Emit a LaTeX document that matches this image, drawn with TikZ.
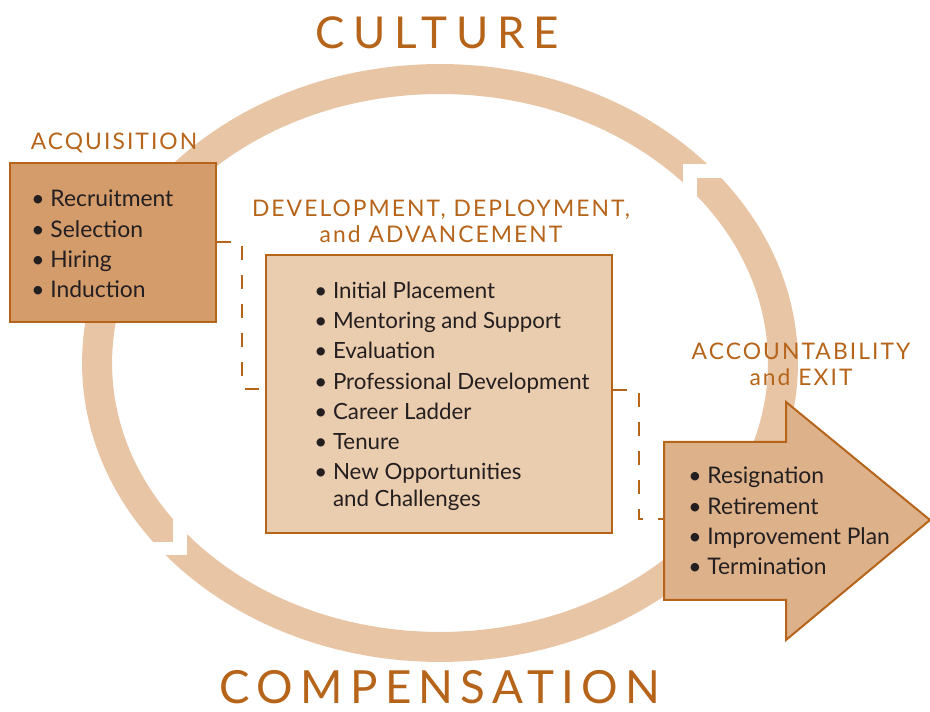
\documentclass[tikz,border=0pt]{standalone}
\usepackage{fontspec}
\setmainfont{Lato}
\newfontfamily\headfont[LetterSpace=9]{Lato}
\newfontfamily\culturefont[LetterSpace=20]{Lato}
\newfontfamily\compfont[LetterSpace=16]{Lato}
\usepackage{xcolor}
\definecolor{rust}{RGB}{182,100,26}
\definecolor{ringtan}{RGB}{232,197,164}
\definecolor{acqtan}{RGB}{212,155,107}
\definecolor{devtan}{RGB}{234,204,174}
\definecolor{exittan}{RGB}{221,177,138}
\definecolor{ink}{RGB}{35,31,32}
\newcommand{\bul}{\textbullet\ }
\newcommand{\bulgap}{\\[2.2pt]}
\tikzset{
  stagebox/.style={draw=rust, line width=0.04cm},
  stagelist/.style={text=ink, align=left, inner sep=0pt, anchor=west, font=\fontsize{13}{15}\selectfont},
  stagehead/.style={text=rust, align=center, font=\headfont\fontsize{13}{15}\selectfont},
  bigword/.style={text=rust, inner sep=0pt},
  link/.style={draw=rust, line width=0.04cm, dash pattern=on 0.28cm off 0.3cm},
  ringgap/.style={draw=white, line width=0.28cm, line join=miter}
}

\begin{document}
\begin{tikzpicture}[x=0.02cm,y=-0.02cm]
\useasboundingbox (0,0) rectangle (930,712);
\draw[ringtan, line width=0.6cm] (440,363) ellipse [x radius=6.86cm, y radius=5.68cm];
\draw[ringgap] (740,171) -- (689.5,171) -- (689.5,205);
\draw[ringgap] (140,548.5) -- (179.5,548.5) -- (179.5,510);
\node[bigword, font=\culturefont\fontsize{25}{30}\selectfont] (culture) at (437,33) {CULTURE};
\node[bigword, font=\compfont\fontsize{26}{30}\selectfont] (compensation) at (440,687) {COMPENSATION};
\node[stagehead] (acqhead) at (114,143) {ACQUISITION};
\node[stagebox, fill=acqtan, minimum width=4.14cm, minimum height=3.18cm] (acq) at (113,242.5) {};
\node[stagelist] (acqlist) at (31,244) {\bul Recruitment\bulgap \bul Selection\bulgap \bul Hiring\bulgap \bul Induction};
\node[stagehead] (devhead) at (441,221) {DEVELOPMENT, DEPLOYMENT,\\and ADVANCEMENT};
\node[stagebox, fill=devtan, minimum width=6.92cm, minimum height=5.56cm] (dev) at (439,394) {};
\node[stagelist, font=\fontsize{12.7}{15}\selectfont] (devlist) at (314,396)
  {\bul Initial Placement\bulgap \bul Mentoring and Support\bulgap \bul Evaluation\bulgap \bul Professional Development\bulgap
   \bul Career Ladder\bulgap \bul Tenure\bulgap \bul New Opportunities\\ \phantom{\bul}and Challenges};
\node[stagehead] (exithead) at (801,364.5) {ACCOUNTABILITY\\and EXIT};
\draw[fill=exittan, draw=rust, line width=0.04cm, line join=miter] (664,442) -- (786,442) -- (786,402) -- (930,520) -- (786,640) -- (786,600) -- (664,600) -- cycle;
\coordinate (exitin) at (664,519);
\node[stagelist] (exitlist) at (688,521) {\bul Resignation\bulgap \bul Retirement\bulgap \bul Improvement Plan\bulgap \bul Termination};
\draw[link] (acq.east) -- ++(25,0) |- ([yshift=0.1cm]dev.west);
\draw[link] ([yshift=0.08cm]dev.east) -- ++(26,0) |- (exitin);
\end{tikzpicture}
\end{document}
